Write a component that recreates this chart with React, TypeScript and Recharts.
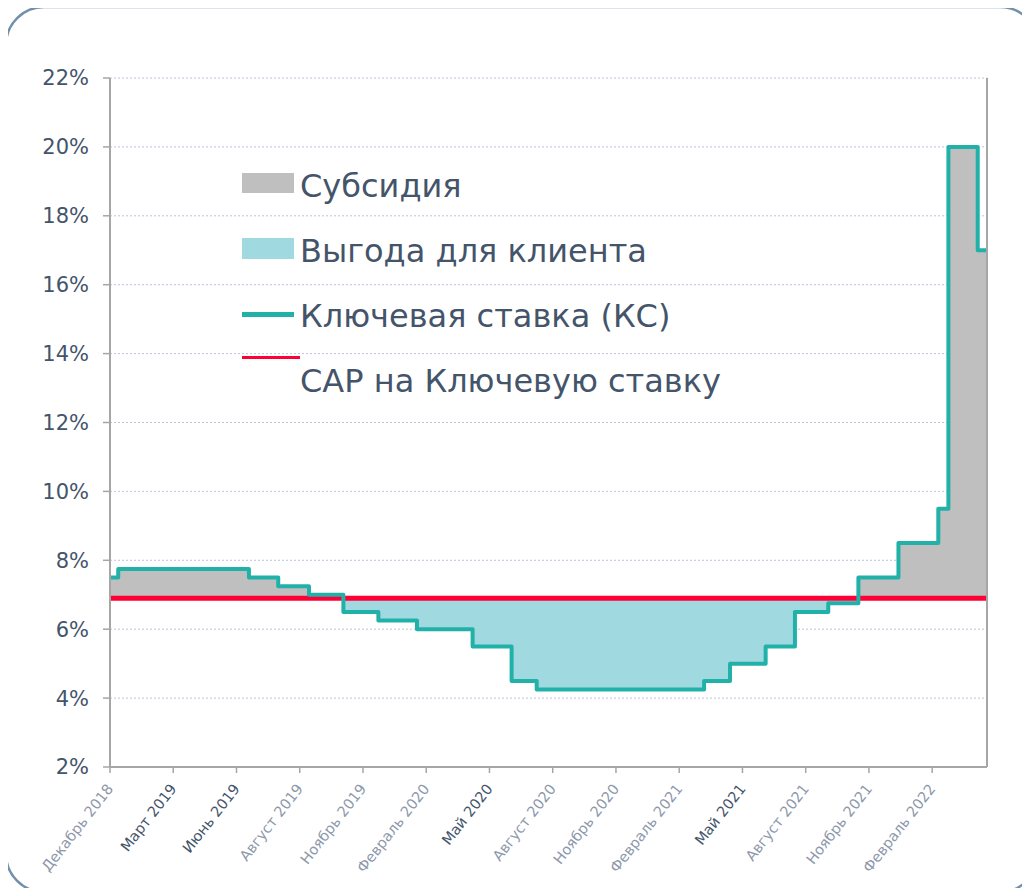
import React from "react";
import {
  ComposedChart,
  Area,
  Line,
  XAxis,
  YAxis,
  CartesianGrid,
  ReferenceLine,
  Legend,
} from "recharts";

// months counted from December 2018
const stepMonth = [
  0, 0.39, 6.59, 7.98, 9.44, 11.07, 12.73, 14.56, 17.2, 19.05, 20.24, 28.18,
  29.41, 31.1, 32.49, 34.07, 35.5, 37.4, 39.29, 39.77, 41.16,
];
const keyRate = [
  7.5, 7.75, 7.5, 7.25, 7.0, 6.5, 6.25, 6.0, 5.5, 4.5, 4.25, 4.5, 5.0, 5.5,
  6.5, 6.75, 7.5, 8.5, 9.5, 20, 17,
];
const endMonth = 41.6;
const capRate = 6.9;

const tickMonths = [0, 3, 6, 9, 12, 15, 18, 21, 24, 27, 30, 33, 36, 39];
const tickLabels = [
  "Декабрь 2018",
  "Март 2019",
  "Июнь 2019",
  "Август 2019",
  "Ноябрь 2019",
  "Февраль 2020",
  "Май 2020",
  "Август 2020",
  "Ноябрь 2020",
  "Февраль 2021",
  "Май 2021",
  "Август 2021",
  "Ноябрь 2021",
  "Февраль 2022",
];
const yTicks = [2, 4, 6, 8, 10, 12, 14, 16, 18, 20, 22];
const legendNames = [
  "Субсидия",
  "Выгода для клиента",
  "Ключевая ставка (КС)",
  "САР на Ключевую ставку",
];

const GRAY = "#bfbfbf";
const LIGHT_BLUE = "#a0d9df";
const TEAL = "#22b1a8";
const RED = "#ff0036";
const TEXT = "#44546a";
const AXIS = "#a6a6a6";
const FONT = "DejaVu Sans";

// some labels look darker in the original
const darkTicks = ["Март 2019", "Июнь 2019", "Май 2020", "Май 2021"];

const data = [...stepMonth, endMonth].map((m, i) => {
  const rate = keyRate[Math.min(i, keyRate.length - 1)];
  return {
    m,
    rate,
    cap: capRate,
    subsidy: [capRate, Math.max(rate, capRate)],
    benefit: [Math.min(rate, capRate), capRate],
  };
});

function MonthTick(props: any) {
  const { x, y, payload } = props;
  const label = tickLabels[tickMonths.indexOf(payload.value)];
  const dark = darkTicks.includes(label);
  return (
    <g transform={`translate(${x + 4},${y + 14})`}>
      <text
        textAnchor="end"
        transform="rotate(-52)"
        fontSize={14.5}
        fontFamily={FONT}
        fill={dark ? TEXT : "#8d98ab"}
      >
        {label}
      </text>
    </g>
  );
}

function LegendBox() {
  const textStyle = (top: number): React.CSSProperties => ({
    position: "absolute",
    left: 58,
    top,
    fontSize: 32,
    lineHeight: "32px",
    fontFamily: FONT,
    color: TEXT,
    whiteSpace: "nowrap",
  });
  return (
    <div style={{ position: "relative", width: 520, height: 250 }}>
      <div style={{ position: "absolute", left: 0, top: 13, width: 52, height: 20, background: GRAY }} />
      <div style={textStyle(10)}>{legendNames[0]}</div>
      <div style={{ position: "absolute", left: 0, top: 78, width: 52, height: 21, background: LIGHT_BLUE }} />
      <div style={textStyle(75)}>{legendNames[1]}</div>
      <div style={{ position: "absolute", left: 0, top: 152, width: 52, height: 5, background: TEAL }} />
      <div style={textStyle(140)}>{legendNames[2]}</div>
      <div style={{ position: "absolute", left: 0, top: 196, width: 58, height: 3, background: RED }} />
      <div style={textStyle(205)}>{legendNames[3]}</div>
    </div>
  );
}

export default function App() {
  return (
    <div
      style={{
        position: "relative",
        width: 1030,
        height: 896,
        margin: -8,
        overflow: "hidden",
        background: "#fff",
      }}
    >
      <ComposedChart
        width={1030}
        height={896}
        data={data}
        margin={{ top: 78, right: 43, left: 30, bottom: 29 }}
        style={{ position: "absolute", left: 0, top: 0 }}
      >
        <CartesianGrid
          vertical={false}
          stroke="#b9c6d8"
          strokeDasharray="2 2"
        />
        <XAxis
          dataKey="m"
          type="number"
          domain={[0, endMonth]}
          ticks={tickMonths}
          interval={0}
          height={100}
          tick={<MonthTick />}
          tickSize={6}
          axisLine={{ stroke: AXIS, strokeWidth: 2 }}
          tickLine={{ stroke: AXIS, strokeWidth: 1.5 }}
        />
        <YAxis
          type="number"
          domain={[2, 22]}
          ticks={yTicks}
          interval={0}
          width={80}
          tickSize={7}
          tickMargin={14}
          tickFormatter={(v) => `${v}%`}
          tick={{ fontSize: 21, fontFamily: FONT, fill: TEXT }}
          axisLine={{ stroke: AXIS, strokeWidth: 2 }}
          tickLine={{ stroke: AXIS, strokeWidth: 1.5 }}
        />
        <Area
          type="stepAfter"
          dataKey="subsidy"
          name={legendNames[0]}
          fill={GRAY}
          fillOpacity={1}
          stroke="none"
          isAnimationActive={false}
        />
        <Area
          type="stepAfter"
          dataKey="benefit"
          name={legendNames[1]}
          fill={LIGHT_BLUE}
          fillOpacity={1}
          stroke="none"
          isAnimationActive={false}
        />
        <Line
          type="linear"
          dataKey="cap"
          name={legendNames[3]}
          stroke={RED}
          strokeWidth={5}
          dot={false}
          activeDot={false}
          isAnimationActive={false}
        />
        <Line
          type="stepAfter"
          dataKey="rate"
          name={legendNames[2]}
          stroke={TEAL}
          strokeWidth={4}
          strokeLinejoin="round"
          dot={false}
          activeDot={false}
          isAnimationActive={false}
        />
        <ReferenceLine x={endMonth} stroke={AXIS} strokeWidth={2} />
        <Legend
          layout="vertical"
          align="center"
          verticalAlign="middle"
          wrapperStyle={{ left: 242, top: 160, width: 520 }}
          content={() => <LegendBox />}
        />
      </ComposedChart>
      {/* rounded card frame */}
      <svg
        width={1030}
        height={896}
        style={{ position: "absolute", left: 0, top: 0, pointerEvents: "none" }}
      >
        <path
          d="M 44 7 L 1000 7 A 38 38 0 0 1 1038 45 L 1038 854 A 38 38 0 0 1 1000 892 L 44 892 A 38 38 0 0 1 6 854 L 6 45 A 38 38 0 0 1 44 7 Z"
          fill="none"
          stroke="#7390ab"
          strokeWidth={2.5}
        />
      </svg>
    </div>
  );
}
